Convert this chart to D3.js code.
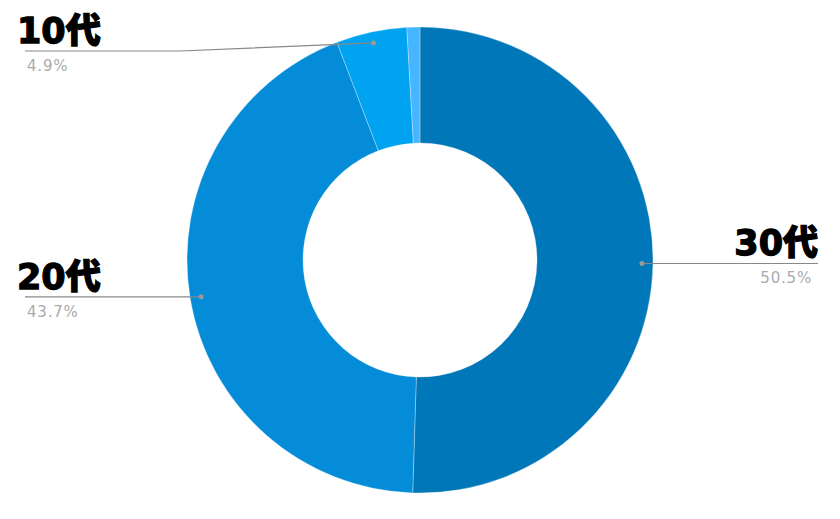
<!DOCTYPE html>
<html>
<head>
<meta charset="utf-8">
<script src="https://cdn.jsdelivr.net/npm/d3@7"></script>
<style>
  body { margin: 0; background: #fff; }
  .lbl { font-family: "DejaVu Sans", "Noto Sans CJK JP", sans-serif; font-weight: 900; font-size: 35px; fill: #000; stroke: #000; stroke-width: 1.3px; }
  .pct { font-family: "DejaVu Sans", sans-serif; font-size: 15px; letter-spacing: 0.8px; fill: #ababab; }
</style>
</head>
<body>
<div id="chart"></div>
<script>
// Data
var ages = ["30代", "20代", "10代", "その他"];
var shares = [50.5, 43.7, 4.9, 0.9];
var pctLabels = ["50.5%", "43.7%", "4.9%", ""];
var colors = ["#0077b8", "#048cd8", "#00a3f0", "#45b6ff"];

var svgWidth = 840, svgHeight = 519;
var cx = 420, cy = 260;
var outerR = 233, innerR = 117;

var svg = d3.select("#chart")
  .append("svg")
  .attr("width", svgWidth)
  .attr("height", svgHeight);

var g = svg.append("g")
  .attr("transform", `translate(${cx}, ${cy})`);

var pie = d3.pie().sort(null).value(d => d);
var arcs = pie(shares);

var arc = d3.arc().innerRadius(innerR).outerRadius(outerR);
var dotArc = d3.arc().innerRadius(222).outerRadius(222);

g.selectAll("path")
  .data(arcs)
  .enter()
  .append("path")
  .attr("d", arc)
  .attr("fill", (d, i) => colors[i])
  .attr("stroke", "#fff")
  .attr("stroke-width", 0.3);

// labels (skip the tiny slice)
arcs.forEach(function(d, i) {
  if (!pctLabels[i]) return;
  var p = dotArc.centroid(d);
  var px = p[0] + cx, py = p[1] + cy;
  var right = px > cx;
  var ly = Math.max(py, 51);
  var endX = right ? 818 : 25;
  var pts = right
    ? [[px, py], [endX, ly]]
    : (ly !== py ? [[px, py], [180, ly], [endX, ly]] : [[px, py], [endX, ly]]);

  svg.append("path")
    .attr("d", d3.line()(pts))
    .attr("fill", "none")
    .attr("stroke", "#888")
    .attr("stroke-width", 1.2);

  svg.append("circle")
    .attr("cx", px)
    .attr("cy", py)
    .attr("r", 2.5)
    .attr("fill", "#999");

  svg.append("text")
    .attr("class", "lbl")
    .attr("x", right ? endX : 17)
    .attr("y", ly - 8)
    .attr("text-anchor", right ? "end" : "start")
    .text(ages[i]);

  svg.append("text")
    .attr("class", "pct")
    .attr("x", right ? 812 : 27)
    .attr("y", ly + 20)
    .attr("text-anchor", right ? "end" : "start")
    .text(pctLabels[i]);
});
</script>
</body>
</html>
